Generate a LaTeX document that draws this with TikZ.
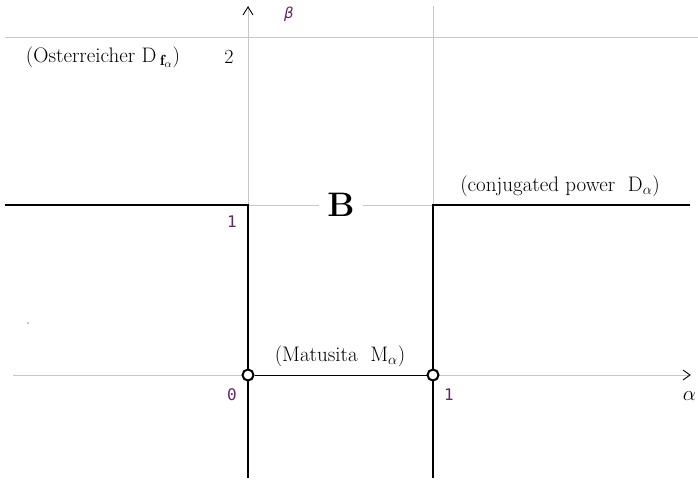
\documentclass[tikz,border=0pt]{standalone}
\usepackage{fontspec}
\newfontfamily\numfont{DejaVu Sans Mono}
\newfontfamily\grfont{DejaVu Sans}
\definecolor{grid}{RGB}{200,200,200}
\definecolor{lab}{RGB}{100,40,100}
\begin{document}
\begin{tikzpicture}[x=1pt,y=-1pt,
  gridline/.style={draw=grid,line width=0.9pt},
  thick line/.style={draw=black,line width=2.6pt},
  thin line/.style={draw=black,line width=0.9pt},
  opendot/.style={circle,draw=black,line width=2pt,fill=white,inner sep=0pt,minimum size=11pt},
  numlab/.style={text=lab,font=\numfont\fontsize{16}{18}\selectfont,inner sep=1pt},
  txt/.style={font=\fontsize{21}{23}\selectfont,inner sep=1pt}]
\useasboundingbox (0,0) rectangle (698,482);
% coordinates
\coordinate (ytop) at (248,6);
\coordinate (yB) at (248,205);
\coordinate (ybot) at (248,478);
\coordinate (vtop) at (433,6);
\coordinate (vB) at (433,205);
\coordinate (vbot) at (433,478);
\coordinate (l2a) at (5,37);
\coordinate (l2b) at (698,37);
\coordinate (lBa) at (5,205);
\coordinate (lBb) at (690,205);
\coordinate (xa) at (13,375);
\coordinate (xb) at (690,375);
% grid lines
\draw[gridline] (l2a) -- (l2b);
\draw[gridline] (ytop) -- (yB);
\draw[gridline] (vtop) -- (vB);
\draw[gridline] (xa) -- (xb);
\draw[black,line width=0.9pt] (683,370) -- (690,375) -- (683,380);
\draw[black,line width=0.9pt] (243,15) -- (248,7) -- (253,15);
% B line
\node[font=\bfseries\fontsize{34}{36}\selectfont,fill=white,inner xsep=8pt,inner ysep=0pt] (B) at (341,205) {B};
\draw[gridline] (yB) -- (B.west);
\draw[gridline] (B.east) -- (vB);
% thick lines
\draw[thick line,line join=miter] (lBa) -- (yB) -- (ybot);
\draw[thick line,line join=miter] (lBb) -- (vB) -- (vbot);
% matusita segment
\node[opendot] (o0) at (248,375) {};
\node[opendot] (o1) at (433,375) {};
\draw[thin line] (o0) -- (o1);
% labels
\node[text=lab,font=\grfont\itshape\fontsize{15}{17}\selectfont] (beta) at (289,14) {β};
\node[inner sep=1pt,font=\fontsize{20}{22}\selectfont] (two) at (229,57) {2};
\node[txt] (ost) at (103,57) {(Osterreicher D\,$_{\mathbf{f}_\alpha}$)};
\node[numlab] (one) at (232,222) {1};
\node[numlab] (zero) at (232,395) {0};
\node[numlab] (onex) at (449,395) {1};
\node[txt] (mat) at (340,356) {(Matusita\ \ M$_\alpha$)};
\node[txt] (conj) at (560,186) {(conjugated power\ \ D$_\alpha$)};
\node[font=\fontsize{22}{24}\selectfont,inner sep=1pt,anchor=east] (alpha) at (697,396) {$\alpha$};
\fill[black] (28,323) circle (0.7pt);
\end{tikzpicture}
\end{document}
